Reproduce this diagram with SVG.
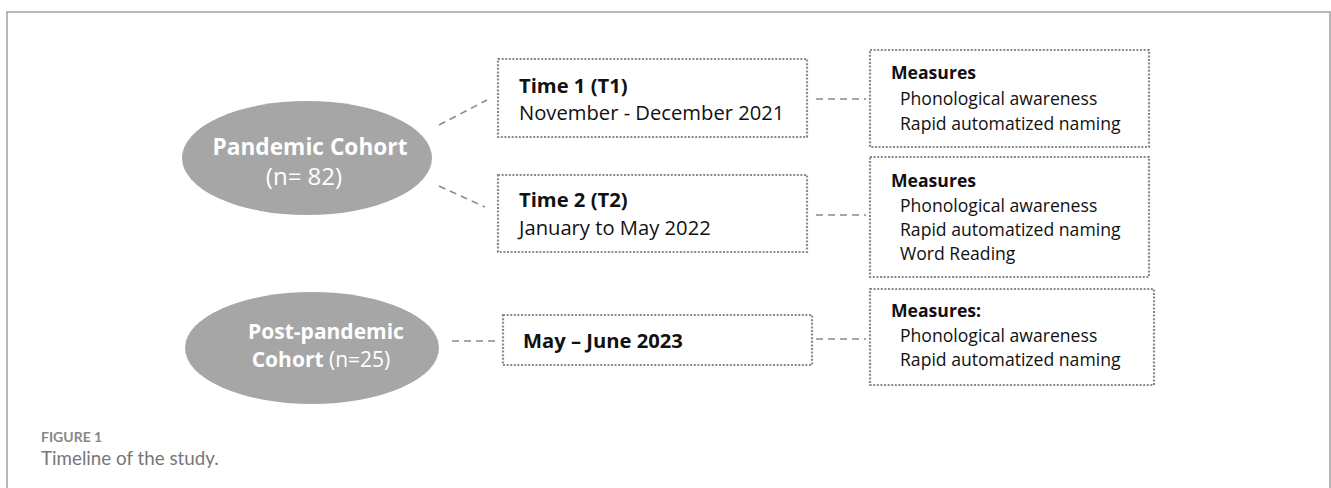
<svg xmlns="http://www.w3.org/2000/svg" width="1331" height="488" viewBox="0 0 1331 488">
<style>
.frame{fill:none;stroke:#a0a0a0;stroke-width:1.5}
.ell{fill:#a6a6a6}
.box{fill:#fff;stroke:#8a8a8a;stroke-width:2.2;stroke-dasharray:2 1.6}
.conn{stroke:#8a8a8a;stroke-width:1.6;stroke-dasharray:7 5;fill:none}
.wt{font-family:"Open Sans","Liberation Sans",sans-serif;fill:#fff;font-size:21px}
.b{font-weight:bold}
.t{font-family:"Open Sans","Liberation Sans",sans-serif;fill:#111;font-size:20.2px}
.m{font-family:"Open Sans","Liberation Sans",sans-serif;fill:#111;font-size:17.6px}
.cap1{font-family:Lato,"Open Sans",sans-serif;fill:#888;font-size:14px;font-weight:bold}
.cap2{font-family:Lato,"Open Sans",sans-serif;fill:#777;font-size:18.8px}
</style>
<path class="frame" d="M7,488 V12 H1330 V488"/>
<g id="connectors">
<line class="conn" x1="439" y1="125" x2="487" y2="100"/>
<line class="conn" x1="439" y1="186" x2="485" y2="207"/>
<line class="conn" x1="816" y1="99" x2="866" y2="99"/>
<line class="conn" x1="816" y1="215" x2="866" y2="215"/>
<line class="conn" x1="452" y1="341" x2="500" y2="341"/>
<line class="conn" x1="816" y1="339" x2="866" y2="339"/>
</g>
<g id="pandemic">
<ellipse class="ell" cx="307" cy="158" rx="125" ry="57"/>
<text class="wt b" x="310" y="155" text-anchor="middle" style="font-size:22.7px">Pandemic Cohort</text>
<text class="wt" x="304" y="185" text-anchor="middle" style="font-size:24px">(n= 82)</text>
</g>
<g id="postpandemic">
<ellipse class="ell" cx="312" cy="348" rx="127" ry="56"/>
<text class="wt b" x="326" y="339" text-anchor="middle">Post-pandemic</text>
<text class="wt" x="321" y="367" text-anchor="middle"><tspan class="b">Cohort</tspan> (n=25)</text>
</g>
<g id="t1">
<rect class="box" x="498" y="59" width="309" height="78"/>
<text class="t b" x="519" y="93">Time 1 (T1)</text>
<text class="t" x="519" y="120">November - December 2021</text>
</g>
<g id="t2">
<rect class="box" x="498" y="175" width="309" height="77"/>
<text class="t b" x="519" y="207">Time 2 (T2)</text>
<text class="t" x="519" y="235">January to May 2022</text>
</g>
<g id="may">
<rect class="box" x="503" y="315" width="309" height="50"/>
<text class="t b" x="523" y="348">May – June 2023</text>
</g>
<g id="m1">
<rect class="box" x="870" y="50" width="279" height="97"/>
<text class="m b" x="891" y="79">Measures</text>
<text class="m" x="900" y="105">Phonological awareness</text>
<text class="m" x="900" y="130">Rapid automatized naming</text>
</g>
<g id="m2">
<rect class="box" x="870" y="157" width="279" height="120"/>
<text class="m b" x="891" y="187">Measures</text>
<text class="m" x="900" y="212">Phonological awareness</text>
<text class="m" x="900" y="236">Rapid automatized naming</text>
<text class="m" x="900" y="260">Word Reading</text>
</g>
<g id="m3">
<rect class="box" x="870" y="289" width="284" height="96"/>
<text class="m b" x="891" y="317">Measures:</text>
<text class="m" x="900" y="342">Phonological awareness</text>
<text class="m" x="900" y="366">Rapid automatized naming</text>
</g>
<g id="caption">
<text class="cap1" x="41" y="442">FIGURE 1</text>
<text class="cap2" x="41" y="465">Timeline of the study.</text>
</g>
</svg>
